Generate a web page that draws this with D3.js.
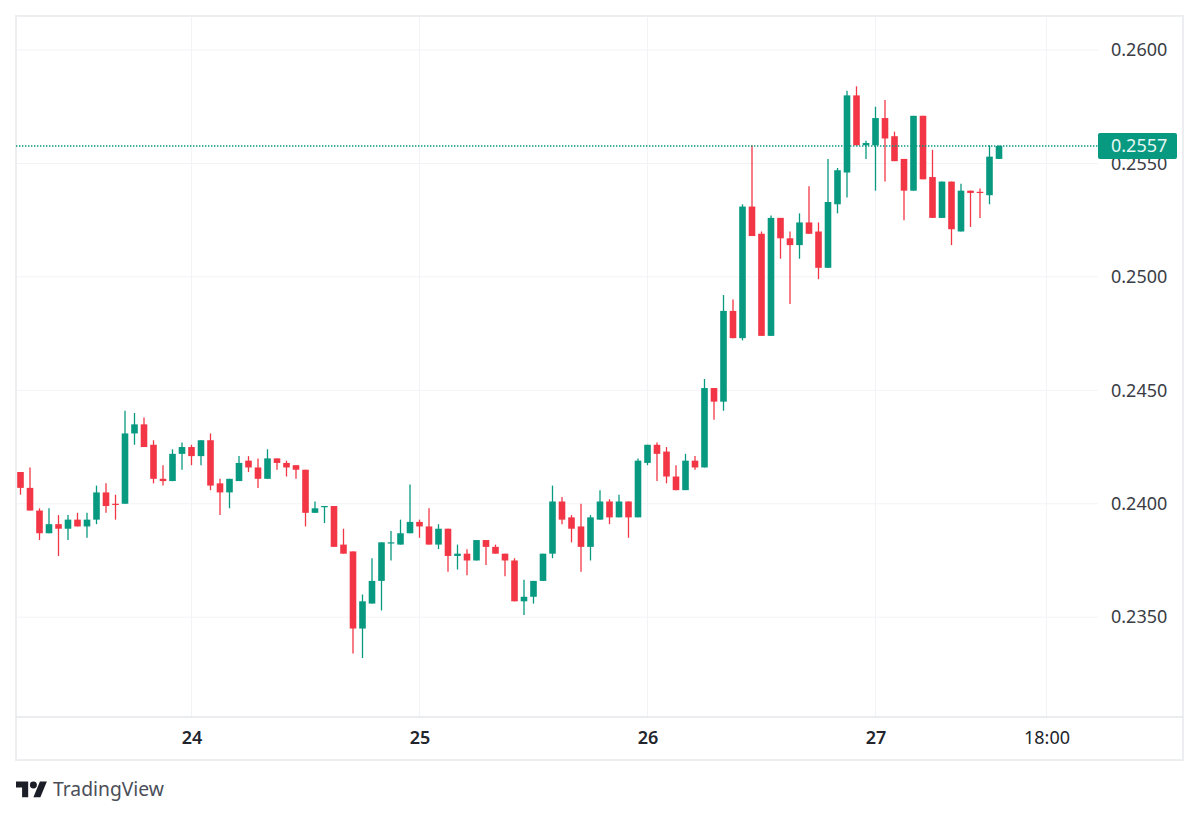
<!DOCTYPE html>
<html>
<head>
<meta charset="utf-8">
<script src="https://cdnjs.cloudflare.com/ajax/libs/d3/7.8.5/d3.min.js"></script>
<style>
  html, body { margin: 0; padding: 0; background: #fff; }
  svg { display: block; }
  text { font-family: "Noto Sans", sans-serif; }
  .tick line, .domain { display: none; }
</style>
</head>
<body>
<div id="chart"></div>
<script>
// hourly candles, first one is 18 hours before the "24" tick
const firstHour = -18;
const opens = [
  .2414,.2407,.2397,.2387,.2391,.2389,.2393,.2390,.2393,.2405,.2400,.2400,.2431,.2435,.2426,.2411,.2410,.2422,
  .2425,.2421,.2428,.2409,.2405,.2410,.2419,.2416,.2411,.2420,.2418,.2417,.2415,.2396,.2399,.2399,.2382,.2379,
  .2345,.2356,.2366,.2383,.2382,.2387,.2392,.2390,.2382,.2389,.2377,.2378,.2375,.2384,.2381,.2378,.2375,.2357,
  .2359,.2366,.2378,.2401,.2394,.2390,.2381,.2393,.2401,.2394,.2401,.2394,.2418,.2426,.2423,.2412,.2406,.2419,
  .2416,.2451,.2445,.2485,.2473,.2531,.2519,.2474,.2526,.2517,.2514,.2524,.2520,.2504,.2532,.2546,.2580,.2558,
  .2558,.2570,.2562,.2552,.2538,.2571,.2544,.2526,.2542,.2520,.2538,.25375,.2536,.2552
];
const closes = [
  .2407,.2397,.2387,.2391,.2389,.2393,.2390,.2393,.2405,.2399,.23995,.2431,.2435,.2425,.2411,.2410,.2422,.2425,
  .2421,.2428,.2408,.2405,.2411,.2418,.2416,.2411,.2420,.2418,.2416,.2415,.2396,.2398,.2399,.2381,.2378,.2345,
  .2357,.2366,.2383,.2383,.2387,.2392,.2390,.2382,.2389,.2377,.2378,.2375,.2384,.2381,.2378,.2375,.2357,.2359,
  .2366,.2378,.2401,.2393,.2389,.2381,.2394,.2401,.2394,.2401,.2394,.2419,.2426,.2422,.2412,.2406,.2419,.2416,
  .2451,.2445,.2485,.2473,.2531,.2518,.2474,.2526,.2517,.2514,.2524,.2519,.2504,.2533,.2547,.2580,.2558,.2559,
  .2570,.2561,.2551,.2538,.2571,.2543,.2526,.2542,.2521,.2538,.2537,.2537,.2553,.25577
];
const highs = [
  .2414,.2416,.2398,.2398,.2395,.2395,.2396,.2396,.2408,.2409,.2404,.2441,.2440,.2438,.2428,.2417,.2424,.2427,
  .2426,.2428,.2431,.2411,.2411,.2421,.2421,.2420,.2424,.2420,.2419,.2417,.2415,.2401,.2399,.2399,.2389,.2379,
  .2360,.2376,.2383,.2388,.2393,.24085,.2393,.2398,.2391,.2389,.2382,.2380,.2384,.2384,.2382,.2378,.2376,.23665,
  .2366,.2378,.2408,.2403,.2395,.2400,.2395,.2406,.2402,.2404,.2401,.2420,.2426,.2427,.2425,.2417,.2422,.2421,
  .2455,.2451,.2492,.2490,.2532,.2558,.2520,.2527,.2526,.2520,.2528,.2540,.2524,.2552,.2548,.2582,.2584,.2560,
  .2575,.2578,.2564,.2552,.2571,.2571,.2556,.2542,.2542,.2541,.2538,.2539,.2558,.2558
];
const lows = [
  .2404,.2397,.2384,.2387,.2377,.2384,.2390,.2385,.2391,.2396,.2393,.2400,.2426,.2425,.2409,.2408,.2410,.2415,
  .2417,.2417,.2406,.2395,.2398,.2410,.2414,.2407,.2411,.2415,.2412,.2411,.2390,.2396,.23915,.2381,.2378,.2334,
  .2332,.2356,.2353,.2375,.2382,.2387,.2385,.2382,.2380,.2370,.2371,.23685,.2375,.2373,.2378,.2368,.2357,.2351,
  .2356,.2366,.2376,.2391,.2383,.2370,.2375,.2393,.2391,.2394,.2385,.2394,.2417,.2410,.2409,.2406,.2406,.2415,
  .2416,.2437,.2441,.2473,.2472,.2518,.2474,.2474,.2508,.2488,.2508,.2519,.2499,.2504,.2528,.2535,.2558,.2552,
  .2538,.2542,.2551,.2525,.2538,.2543,.2526,.2526,.2514,.2520,.2522,.2526,.2532,.2552
];
const priceTicks = [0.2350, 0.2400, 0.2450, 0.2500, 0.2550, 0.2600];
const timeTicks = [0, 24, 48, 72, 90];
const timeLabels = ["24", "25", "26", "27", "18:00"];
const lastLabel = "0.2557";

const width = 1200, height = 817;
const paneLeft = 16, paneRight = 1098, frameRight = 1183, paneTop = 16, axisY = 717, frameBottom = 760;
const upColor = "#089981", downColor = "#f23645";

const candles = opens.map((o, i) => ({ hour: firstHour + i, o: o, c: closes[i], h: highs[i], l: lows[i] }));
const lastClose = closes[closes.length - 1];

const x = d3.scaleLinear().domain([-18, 85]).range([20.5, 999]);
const y = d3.scaleLinear().domain([0.2350, 0.2600]).range([617.2, 50]);

const svg = d3.select("#chart").append("svg")
  .attr("width", width)
  .attr("height", height);

// gridlines
svg.append("g").selectAll("line").data(priceTicks).join("line")
  .attr("x1", paneLeft).attr("x2", paneRight)
  .attr("y1", d => y(d)).attr("y2", d => y(d))
  .attr("stroke", "#f2f3f6");
svg.append("g").selectAll("line").data(timeTicks).join("line")
  .attr("x1", d => x(d)).attr("x2", d => x(d))
  .attr("y1", paneTop).attr("y2", axisY)
  .attr("stroke", "#f2f3f6");

// frame
svg.append("rect")
  .attr("x", paneLeft).attr("y", paneTop)
  .attr("width", frameRight - paneLeft).attr("height", frameBottom - paneTop)
  .attr("fill", "none").attr("stroke", "#eceef2").attr("stroke-width", 2);
svg.append("line")
  .attr("x1", paneLeft).attr("x2", frameRight)
  .attr("y1", axisY).attr("y2", axisY)
  .attr("stroke", "#e4e6eb").attr("stroke-width", 1.5);

// axes
const priceAxis = d3.axisRight(y)
  .tickValues(priceTicks)
  .tickFormat(d3.format(".4f"))
  .tickSize(0).tickPadding(13);
svg.append("g")
  .attr("transform", "translate(" + paneRight + ",0)")
  .call(priceAxis)
  .call(g => g.selectAll("text")
    .attr("font-size", 18).attr("fill", "#3a3d45")
    .style("font-family", '"Noto Sans", sans-serif'));

const timeAxis = d3.axisBottom(x)
  .tickValues(timeTicks)
  .tickFormat((d, i) => timeLabels[i])
  .tickSize(0).tickPadding(0);
svg.append("g")
  .attr("transform", "translate(0," + (axisY + 14.5) + ")")
  .call(timeAxis)
  .call(g => g.selectAll("text")
    .attr("font-size", 18).attr("fill", "#22252c")
    .attr("font-weight", (d, i) => i < 4 ? 600 : 400)
    .style("font-family", '"Noto Sans", sans-serif'));

// candles
const candleGroup = svg.append("g");
candleGroup.selectAll("line").data(candles).join("line")
  .attr("x1", d => x(d.hour)).attr("x2", d => x(d.hour))
  .attr("y1", d => y(d.h)).attr("y2", d => y(d.l))
  .attr("stroke", d => d.c >= d.o ? upColor : downColor)
  .attr("stroke-width", 1.3);
candleGroup.selectAll("rect").data(candles).join("rect")
  .attr("x", d => x(d.hour) - 3.3)
  .attr("width", 6.6)
  .attr("y", d => y(Math.max(d.o, d.c)))
  .attr("height", d => Math.max(1.2, Math.abs(y(d.o) - y(d.c))))
  .attr("fill", d => d.c >= d.o ? upColor : downColor);

// last price line and badge
svg.append("line")
  .attr("x1", paneLeft).attr("x2", paneRight)
  .attr("y1", y(lastClose)).attr("y2", y(lastClose))
  .attr("stroke", upColor).attr("stroke-width", 1.4)
  .attr("stroke-dasharray", "1.4 1.6");
svg.append("rect")
  .attr("x", paneRight).attr("y", y(lastClose) - 13)
  .attr("width", 79).attr("height", 26).attr("rx", 2)
  .attr("fill", upColor);
svg.append("text")
  .attr("x", 1111).attr("y", y(lastClose) + 6.5)
  .attr("font-size", 18).attr("fill", "#e6f7f3")
  .text(lastLabel);

// logo
const logo = svg.append("g").attr("transform", "translate(16,778) scale(0.87)");
logo.append("path").attr("d", "M14 22H7V11H0V4h14v18zM28 22h-8l7.5-18h8L28 22z").attr("fill", "#1b1e26");
logo.append("circle").attr("cx", 20).attr("cy", 8).attr("r", 4).attr("fill", "#1b1e26");
svg.append("text")
  .attr("x", 53).attr("y", 796)
  .attr("font-size", 19.3).attr("fill", "#4a4e58")
  .text("TradingView");
</script>
</body>
</html>
